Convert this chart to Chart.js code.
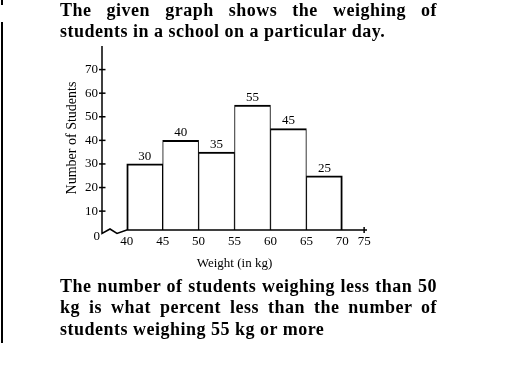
<!DOCTYPE html>
<html>
<head>
<meta charset="utf-8">
<script src="https://cdn.jsdelivr.net/npm/chart.js@4/dist/chart.umd.min.js"></script>
<style>
  body { margin: 0; background: #fff; width: 520px; height: 374px; overflow: hidden; }
  #myChart { position: absolute; left: 0; top: 0; }
  .txt { position: absolute; left: 60px; width: 377px; font: bold 18px "Liberation Serif", serif; letter-spacing: 0.5px; color: #000; }
  .j { text-align: justify; text-align-last: justify; }
  .bar { position: absolute; left: 1px; width: 2px; background: #000; }
</style>
</head>
<body>
<div class="bar" style="top:0;height:5px"></div>
<div class="bar" style="top:22px;height:321px"></div>
<canvas id="myChart" width="520" height="374"></canvas>
<div class="txt" style="top:0;line-height:20.6px">
  <div class="j">The given graph shows the weighing of</div>
  <div>students in a school on a particular day.</div>
</div>
<div class="txt" style="top:276px;line-height:21.3px">
  <div class="j">The number of students weighing less than 50</div>
  <div class="j">kg is what percent less than the number of</div>
  <div>students weighing 55 kg or more</div>
</div>
<script>
// Datos del histograma (intervalos de 5 kg)
var weightFrom = [40, 45, 50, 55, 60, 65];
var classWidth = 5;
var students = [30, 40, 35, 55, 45, 25];

// Marcas de los ejes
var xTicks = [40, 45, 50, 55, 60, 65, 70, 75];
var yTicks = [10, 20, 30, 40, 50, 60, 70];

var serif = 'Liberation Serif';

// Eje con salto, marcas de ticks y etiquetas de valores
var decor = {
  id: 'decor',
  afterDatasetsDraw: function (chart) {
    var ctx = chart.ctx;
    var x = chart.scales.x, y = chart.scales.y;
    var x0 = x.left, base = y.bottom;
    var xStart = x.getPixelForValue(xTicks[0]);
    ctx.save();
    ctx.strokeStyle = '#000';
    ctx.lineWidth = 1.5;
    // eje y con el salto en zigzag
    ctx.beginPath();
    ctx.moveTo(x0, y.top);
    ctx.lineTo(x0, base + 3.5);
    ctx.lineTo(x0 + 8, base - 1);
    ctx.lineTo(x0 + 15, base + 3.5);
    ctx.lineTo(xStart, base);
    ctx.lineTo(x.right, base);
    ctx.stroke();
    // marcas del eje y (cruzan el eje)
    yTicks.forEach(function (v) {
      var py = y.getPixelForValue(v);
      ctx.beginPath();
      ctx.moveTo(x0 - 3, py);
      ctx.lineTo(x0 + 3.5, py);
      ctx.stroke();
    });
    // marca final del eje x
    var last = x.ticks[x.ticks.length - 1];
    var px = x.getPixelForValue(last.value);
    ctx.beginPath();
    ctx.moveTo(px, base - 3);
    ctx.lineTo(px, base + 3);
    ctx.stroke();
    // etiqueta del origen
    ctx.fillStyle = '#000';
    ctx.font = '13px ' + serif;
    ctx.textAlign = 'right';
    ctx.textBaseline = 'middle';
    ctx.fillText('0', x0 - 2, base + 7);
    // valores encima de las barras
    ctx.textAlign = 'center';
    ctx.textBaseline = 'bottom';
    chart.getDatasetMeta(0).data.forEach(function (bar, i) {
      ctx.fillText(String(students[i]), bar.x, bar.y - 1);
    });
    ctx.restore();
  }
};

var lastIndex = students.length - 1;

var data = {
  datasets: [{
    data: weightFrom.map(function (w, i) {
      return { x: w + classWidth / 2, y: students[i] };
    }),
    backgroundColor: '#fff',
    borderColor: '#000',
    borderSkipped: false,
    borderWidth: function (c) {
      return {
        top: 2,
        bottom: 0,
        left: c.dataIndex === 0 ? 2 : 1,
        right: c.dataIndex === lastIndex ? 2 : 1
      };
    },
    barThickness: 'flex',
    barPercentage: 1,
    categoryPercentage: 1
  }]
};

var options = {
  responsive: false,
  animation: false,
  devicePixelRatio: 1,
  layout: { padding: { left: 60, top: 46, right: 153, bottom: 99 } },
  plugins: { legend: { display: false }, tooltip: { enabled: false } },
  scales: {
    x: {
      type: 'linear',
      offset: false,
      min: 36.56,
      max: 73.43,
      grid: { display: false, drawTicks: false },
      border: { display: false },
      afterBuildTicks: function (scale) {
        // la figura original mete la marca 75 justo antes del final del eje
        scale.ticks = xTicks.map(function (v) {
          return { value: Math.min(v, scale.max - 0.4) };
        });
      },
      afterFit: function (scale) { scale.height = 45; },
      ticks: {
        autoSkip: false,
        maxRotation: 0,
        padding: 4,
        color: '#000',
        font: { family: serif, size: 13 },
        callback: function (v, i) { return String(xTicks[i]); }
      },
      title: {
        display: true,
        text: 'Weight (in kg)',
        color: '#000',
        font: { family: serif, size: 13 },
        padding: { top: 4, bottom: 4 }
      }
    },
    y: {
      min: 2,
      max: 80,
      grid: { display: false, drawTicks: false },
      border: { display: false },
      afterBuildTicks: function (scale) {
        scale.ticks = yTicks.map(function (v) { return { value: v }; });
      },
      afterFit: function (scale) { scale.width = 42; },
      ticks: {
        padding: 4,
        color: '#000',
        font: { family: serif, size: 13 }
      },
      title: {
        display: true,
        text: 'Number of Students',
        color: '#000',
        font: { family: serif, size: 14 },
        padding: { top: 4, bottom: 4 }
      }
    }
  }
};

var ctx = document.getElementById('myChart').getContext('2d');
var myChart = new Chart(ctx, {
  type: 'bar',
  data: data,
  options: options,
  plugins: [decor]
});
</script>
</body>
</html>
